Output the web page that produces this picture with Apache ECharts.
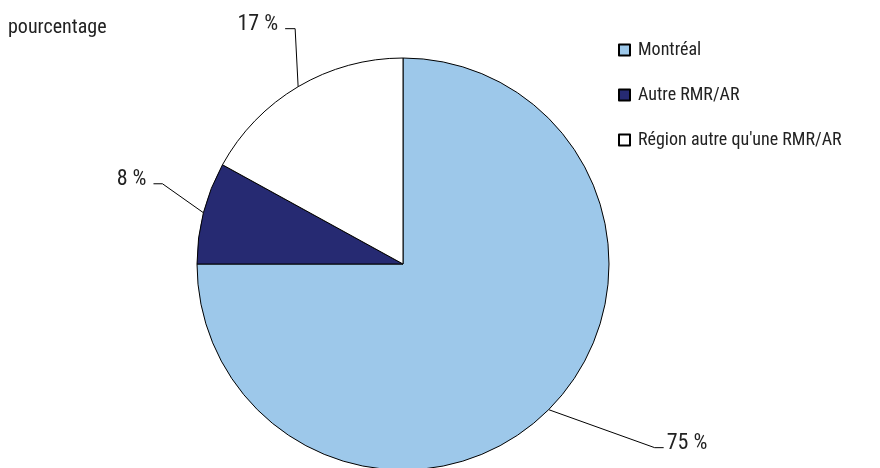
<!DOCTYPE html>
<html>
<head>
<meta charset="utf-8">
<script src="https://cdn.jsdelivr.net/npm/echarts@6/dist/echarts.min.js"></script>
<style>html,body{margin:0;padding:0;background:#fff;}#c{width:880px;height:468px;}</style>
</head>
<body>
<div id="c"></div>
<script>
var categories = ["Montréal", "Autre RMR/AR", "Région autre qu'une RMR/AR"];
var values = [75, 8, 17];
var colors = ["#9dc8ea", "#262a72", "#ffffff"];
var unitLabel = "pourcentage";

var FONT = '"Liberation Sans Narrow", "Arial Narrow", "Roboto Condensed", sans-serif';
// label-line bend offsets (layout only)
var bends = [
  {dx: 106, dy: 38, h: 9, side: 1, gap: 3},
  {dx: -41, dy: -29, h: -9, side: -1, gap: 7},
  {dx: -3, dy: -58, h: -10, side: -1, gap: 7}
];

var chart = echarts.init(document.getElementById('c'));
chart.setOption({
  animation: false,
  backgroundColor: '#fff',
  title: {
    text: unitLabel, left: 3, top: 13,
    textStyle: {fontFamily: FONT, fontSize: 20, fontWeight: 'normal', color: '#222'}
  },
  legend: {
    orient: 'vertical', left: 613, top: 36, itemGap: 27,
    itemWidth: 11, itemHeight: 11, icon: 'rect',
    textStyle: {fontFamily: FONT, fontSize: 18, color: '#222', padding: [0, 0, 0, 3]},
    data: categories
  },
  series: [{
    type: 'pie',
    center: [403, 264],
    radius: 206,
    startAngle: 90,
    clockwise: true,
    avoidLabelOverlap: false,
    itemStyle: {borderColor: '#000', borderWidth: 1},
    label: {
      show: true, formatter: '{c} %',
      fontFamily: FONT, fontSize: 22, color: '#222'
    },
    labelLine: {show: true, length: 20, length2: 10, lineStyle: {color: '#000', width: 1}},
    labelLayout: function (p) {
      var b = bends[p.dataIndex];
      var pts = p.labelLinePoints;
      if (!pts) return {};
      var p0 = pts[0];
      var p1 = [p0[0] + b.dx, p0[1] + b.dy];
      var p2 = [p1[0] + b.h, p1[1]];
      return {
        x: p2[0] + b.side * b.gap,
        y: p2[1] + 7,
        align: b.side > 0 ? 'left' : 'right',
        verticalAlign: 'bottom',
        labelLinePoints: [p0, p1, p2]
      };
    },
    emphasis: {disabled: true},
    data: categories.map(function (n, i) {
      return {name: n, value: values[i], itemStyle: {color: colors[i]}};
    })
  }]
});
</script>
</body>
</html>
